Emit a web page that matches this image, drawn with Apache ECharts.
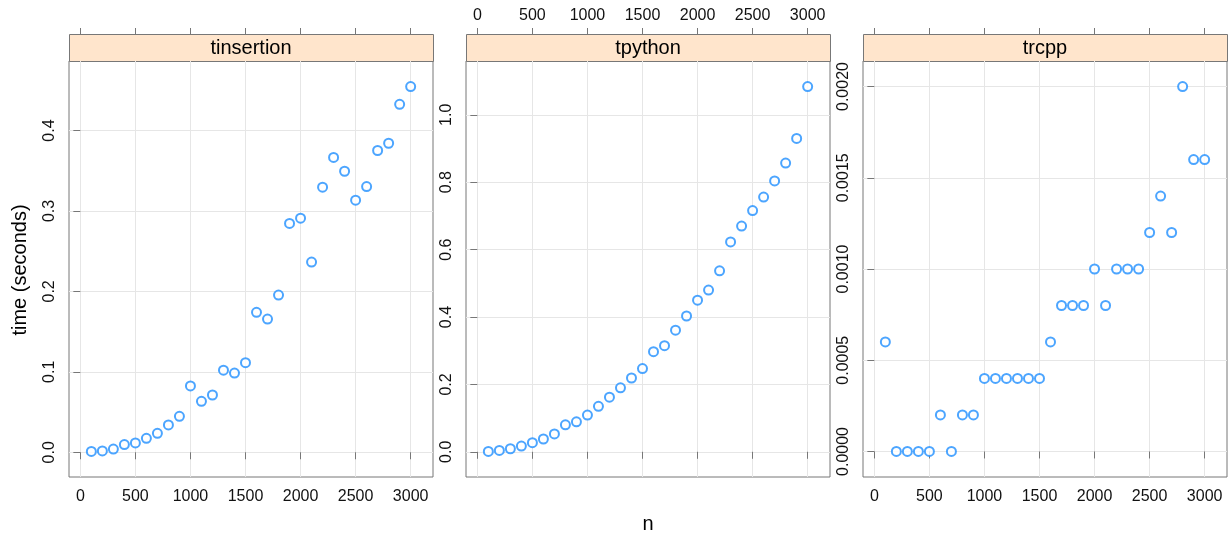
<!DOCTYPE html>
<html>
<head>
<meta charset="utf-8">
<style>
  html, body { margin: 0; padding: 0; background: #fff; }
  #chart { width: 1230px; height: 539px; }
</style>
<script src="https://cdn.jsdelivr.net/npm/echarts@6/dist/echarts.min.js"></script>
</head>
<body>
<div id="chart"></div>
<script>
// problem size n, shared by all three panels
var nValues = [100, 200, 300, 400, 500, 600, 700, 800, 900, 1000,
  1100, 1200, 1300, 1400, 1500, 1600, 1700, 1800, 1900, 2000,
  2100, 2200, 2300, 2400, 2500, 2600, 2700, 2800, 2900, 3000];

var panelNames = ["tinsertion", "tpython", "trcpp"];

var tinsertion = [0.001, 0.0017, 0.004, 0.0096, 0.0116, 0.0174, 0.0236, 0.034, 0.0447, 0.0824,
  0.0634, 0.0712, 0.102, 0.0985, 0.1114, 0.174, 0.1656, 0.1954, 0.2845, 0.291,
  0.2364, 0.3296, 0.3665, 0.3494, 0.3134, 0.3304, 0.3752, 0.3842, 0.4326, 0.4547];

var tpython = [0.001, 0.004, 0.009, 0.017, 0.027, 0.038, 0.053, 0.080, 0.089, 0.109,
  0.135, 0.162, 0.190, 0.219, 0.247, 0.297, 0.315, 0.361, 0.403, 0.450,
  0.480, 0.537, 0.623, 0.670, 0.716, 0.756, 0.804, 0.857, 0.930, 1.084];

var trcpp = [0.0006, 0, 0, 0, 0, 0.0002, 0, 0.0002, 0.0002, 0.0004,
  0.0004, 0.0004, 0.0004, 0.0004, 0.0004, 0.0006, 0.0008, 0.0008, 0.0008, 0.001,
  0.0008, 0.001, 0.001, 0.001, 0.0012, 0.0014, 0.0012, 0.002, 0.0016, 0.0016];

// tick labels
var xTicks = [0, 500, 1000, 1500, 2000, 2500, 3000];
var yTicksInsertion = [0, 0.1, 0.2, 0.3, 0.4];
var yTicksPython = [0, 0.2, 0.4, 0.6, 0.8, 1.0];
var yTicksRcpp = [0, 0.0005, 0.001, 0.0015, 0.002];

var panelData = [tinsertion, tpython, trcpp];
var panelYTicks = [yTicksInsertion, yTicksPython, yTicksRcpp];
var panelDigits = [1, 1, 4];

// lattice style range: data range extended by 7% on each side
function padRange(arr) {
  var lo = Math.min.apply(null, arr), hi = Math.max.apply(null, arr);
  var p = (hi - lo) * 0.07;
  return [lo - p, hi + p];
}

var FONT = "Liberation Sans";
var lefts = [69, 466, 863];
var W = 364, TOP = 61, H = 416, STRIP_TOP = 34;
var xr = padRange(nValues);

var grids = [], xAxes = [], yAxes = [], series = [], graphics = [];

function plainNumber(v) { return String(Math.round(v)); }

panelNames.forEach(function (name, i) {
  grids.push({
    left: lefts[i], top: TOP, width: W, height: H,
    show: true, borderColor: "#777", borderWidth: 1, backgroundColor: "#fff"
  });
  // bottom axis
  xAxes.push({
    type: "value", gridIndex: i, position: "bottom",
    min: xr[0], max: xr[1],
    axisLine: { show: false },
    axisTick: { show: true, length: 7, customValues: xTicks, lineStyle: { color: "#777" } },
    axisLabel: {
      show: i !== 1, customValues: xTicks, margin: 12,
      fontFamily: FONT, fontSize: 16, color: "#111", formatter: plainNumber
    },
    splitLine: { show: true, lineStyle: { color: "#e6e6e6", width: 1 } }
  });
  // top axis, above the strip
  xAxes.push({
    type: "value", gridIndex: i, position: "top", offset: TOP - STRIP_TOP,
    min: xr[0], max: xr[1],
    axisLine: { show: false },
    axisTick: { show: true, length: 6, customValues: xTicks, lineStyle: { color: "#777" } },
    axisLabel: {
      show: i === 1, customValues: xTicks, margin: 10,
      fontFamily: FONT, fontSize: 16, color: "#111", formatter: plainNumber
    },
    splitLine: { show: false }
  });
  var yr = padRange(panelData[i]);
  var digits = panelDigits[i];
  yAxes.push({
    type: "value", gridIndex: i, position: "left",
    min: yr[0], max: yr[1],
    axisLine: { show: false },
    axisTick: { show: true, length: 7, customValues: panelYTicks[i], lineStyle: { color: "#777" } },
    axisLabel: {
      customValues: panelYTicks[i], rotate: 90, margin: 11,
      fontFamily: FONT, fontSize: 16, color: "#111",
      formatter: function (v) { return v.toFixed(digits); }
    },
    splitLine: { show: true, lineStyle: { color: "#e6e6e6", width: 1 } }
  });
  series.push({
    type: "scatter", xAxisIndex: i * 2, yAxisIndex: i,
    symbol: "emptyCircle", symbolSize: 9,
    itemStyle: { color: "#1f8fff", borderWidth: 1 },
    data: nValues.map(function (n, k) { return [n, panelData[i][k]]; })
  });
  // strip
  graphics.push({
    type: "rect", left: lefts[i], top: STRIP_TOP,
    shape: { width: W, height: TOP - STRIP_TOP },
    style: { fill: "#ffe5cc", stroke: "#777", lineWidth: 1 }
  });
  graphics.push({
    type: "text", x: lefts[i] + W / 2, y: (STRIP_TOP + TOP) / 2 + 1,
    style: {
      text: name, fill: "#000", font: "20px " + FONT,
      textAlign: "center", textVerticalAlign: "middle"
    }
  });
});

graphics.push({
  type: "text", x: 20, y: 270, rotation: Math.PI / 2,
  style: { text: "time (seconds)", fill: "#000", font: "20px " + FONT,
    textAlign: "center", textVerticalAlign: "middle" }
});
graphics.push({
  type: "text", x: 648, y: 524,
  style: { text: "n", fill: "#000", font: "20px " + FONT,
    textAlign: "center", textVerticalAlign: "middle" }
});

var myChart = echarts.init(document.getElementById("chart"), null, { renderer: "canvas" });
myChart.setOption({
  animation: false,
  backgroundColor: "#fff",
  grid: grids,
  xAxis: xAxes,
  yAxis: yAxes,
  series: series,
  graphic: graphics
});
</script>
</body>
</html>
